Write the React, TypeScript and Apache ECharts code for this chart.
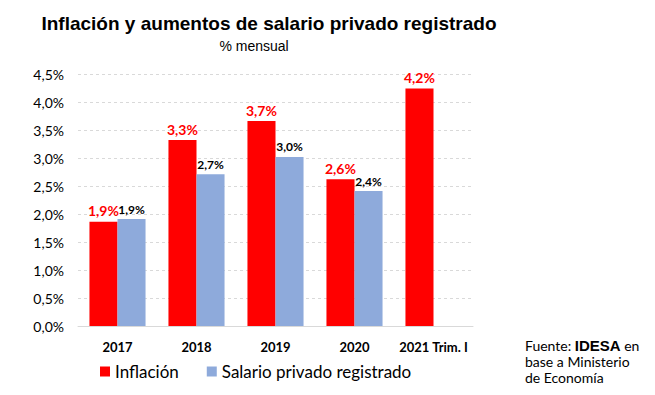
import React, { useEffect, useRef } from "react";
import * as echarts from "echarts";

const categories = ["2017", "2018", "2019", "2020", "2021 Trim. I"];
const inflacion = [1.86, 3.32, 3.66, 2.62, 4.24];
const salario: (number | null)[] = [1.91, 2.71, 3.02, 2.41, null];
const yTicks = { min: 0, max: 4.5, interval: 0.5 };

const fmt = (v: number) => v.toFixed(1).replace(".", ",") + "%";

export default function App() {
  const ref = useRef<HTMLDivElement>(null);
  useEffect(() => {
    const chart = echarts.init(ref.current!, null, { renderer: "svg" });
    chart.setOption({
      animation: false,
      backgroundColor: "#ffffff",
      title: [
        {
          text: "Inflación y aumentos de salario privado registrado",
          left: 264,
          textAlign: "center",
          top: 9,
          textStyle: { fontFamily: "Liberation Sans, Arial", fontWeight: "bold", fontSize: 19, color: "#000" },
        },
        {
          text: "% mensual",
          left: 249,
          textAlign: "center",
          top: 34,
          textStyle: { fontFamily: "Liberation Sans, Arial", fontWeight: "normal", fontSize: 14, color: "#000" },
        },
      ],
      grid: { left: 78, right: 182, top: 74, bottom: 69 },
      legend: {
        left: 95,
        top: 363,
        padding: [0, 5, 0, 5],
        itemWidth: 10,
        itemHeight: 10,
        itemGap: 28,
        icon: "rect",
        textStyle: { fontFamily: "Lato, Open Sans, sans-serif", fontSize: 17, color: "#000" },
        data: ["Inflación", "Salario privado registrado"],
      },
      xAxis: {
        type: "category",
        data: categories,
        axisLine: { lineStyle: { color: "#d9d9d9" } },
        axisTick: { show: false },
        axisLabel: { interval: 0, fontFamily: "Lato, Open Sans, sans-serif", fontWeight: "bold", fontSize: 13, color: "#000", margin: 14 },
      },
      yAxis: {
        type: "value",
        min: yTicks.min,
        max: yTicks.max,
        interval: yTicks.interval,
        axisLine: { show: false },
        axisTick: { show: false },
        splitLine: { lineStyle: { color: "#d9d9d9", type: [3, 3] } },
        axisLabel: {
          fontFamily: "Lato, Open Sans, sans-serif",
          fontSize: 14,
          color: "#000",
          margin: 14,
          formatter: (v: number) => v.toFixed(1).replace(".", ",") + "%",
        },
      },
      series: [
        {
          name: "Inflación",
          type: "bar",
          data: inflacion,
          barGap: "0%",
          barCategoryGap: "29%",
          itemStyle: { color: "#ff0000" },
          label: {
            show: true,
            position: "top",
            distance: 4,
            fontFamily: "Lato, Open Sans, sans-serif",
            fontWeight: "bold",
            fontSize: 14,
            color: "#ff0000",
            formatter: (p: any) => fmt(p.value),
          },
        },
        {
          name: "Salario privado registrado",
          type: "bar",
          data: salario,
          itemStyle: { color: "#8eaadb" },
          label: {
            show: true,
            position: "top",
            distance: 4,
            fontFamily: "Lato, Open Sans, sans-serif",
            fontWeight: "bold",
            fontSize: 12,
            color: "#000",
            formatter: (p: any) => fmt(p.value),
          },
        },
      ],
      graphic: [
        {
          type: "text",
          left: 525,
          top: 338,
          style: {
            text: "{n|Fuente: }{b|IDESA}{n| en}\n{n|base a Ministerio}\n{n|de Economía}",
            rich: {
              n: { fontFamily: "Lato, Open Sans, sans-serif", fontSize: 14, color: "#000", lineHeight: 16 },
              b: { fontFamily: "Liberation Sans, Arial", fontWeight: "bold", fontSize: 15, color: "#000", lineHeight: 16 },
            },
          },
        },
      ],
    });
    return () => chart.dispose();
  }, []);
  return <div ref={ref} style={{ width: 655, height: 395, position: "absolute", left: 0, top: 0 }} />;
}
